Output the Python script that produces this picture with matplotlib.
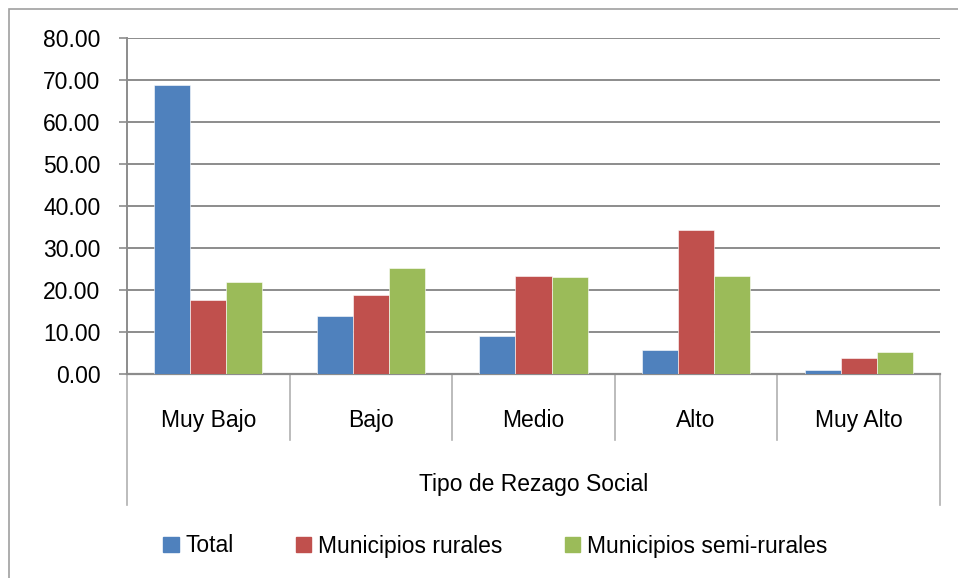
import matplotlib
matplotlib.use('Agg')
import matplotlib.pyplot as plt
from matplotlib.patches import Rectangle, Patch
import numpy as np

plt.rcParams['font.family'] = ['Liberation Sans', 'DejaVu Sans']

categorias = ['Muy Bajo', 'Bajo', 'Medio', 'Alto', 'Muy Alto']
series = ['Total', 'Municipios rurales', 'Municipios semi-rurales']
total = [68.7, 13.8, 9.1, 5.8, 1.0]
rurales = [17.7, 18.7, 23.3, 34.3, 3.9]
semi_rurales = [22.0, 25.3, 23.0, 23.3, 5.2]
colores = ['#4F81BD', '#C0504D', '#9BBB59']

fs = 16.5
fig = plt.figure(figsize=(9.58, 5.78), dpi=100)
ax = fig.add_axes([127 / 958, (578 - 374) / 578, (940 - 127) / 958, (374 - 38) / 578])

x = np.arange(len(categorias))
w = 0.222
for i, vals in enumerate([total, rurales, semi_rurales]):
    ax.bar(x + (i - 1) * w, vals, w, color=colores[i], edgecolor='white', linewidth=0.4, zorder=3)

ax.set_xlim(-0.5, len(categorias) - 0.5)
ax.set_ylim(0, 80)
ax.set_yticks(np.arange(0, 81, 10))
ax.set_yticklabels(['%.2f' % v for v in np.arange(0, 81, 10)], fontsize=fs)
ax.yaxis.grid(True, color='#8c8c8c', linewidth=1.4, zorder=0)
ax.tick_params(axis='y', length=6, width=1.2, color='#8c8c8c', pad=13)
ax.set_xticks([])
for s in ['top', 'right']:
    ax.spines[s].set_visible(False)
ax.spines['left'].set_color('#8c8c8c')
ax.spines['left'].set_linewidth(1.4)
ax.spines['bottom'].set_color('#8c8c8c')
ax.spines['bottom'].set_linewidth(1.6)

# separadores de categorias
trans = ax.get_xaxis_transform()
for b in np.arange(-0.5, len(categorias), 1.0):
    low = -0.39 if b in (-0.5, len(categorias) - 0.5) else -0.196
    ax.plot([b, b], [0, low], transform=trans, color='#b0b0b0', linewidth=1.2, clip_on=False)
for i, c in enumerate(categorias):
    ax.text(i, -0.137, c, transform=trans, ha='center', va='center', fontsize=fs)
ax.text(2, -0.33, 'Tipo de Rezago Social', transform=trans, ha='center', va='center', fontsize=fs)

handles = [Patch(color=colores[i], label=series[i]) for i in range(3)]
fig.legend(handles=handles, loc='center', bbox_to_anchor=(0.517, 1 - 546 / 578), ncol=3,
           frameon=False, fontsize=fs, handlelength=0.68, handleheight=0.68,
           handletextpad=0.3, columnspacing=2.7, borderpad=0)

fig.patches.append(Rectangle((9 / 958, -0.1), 1.2, 1 - 9 / 578 + 0.1, transform=fig.transFigure,
                             fill=False, edgecolor='#a0a0a0', linewidth=1.2))

fig.savefig('out.png', dpi=100)
